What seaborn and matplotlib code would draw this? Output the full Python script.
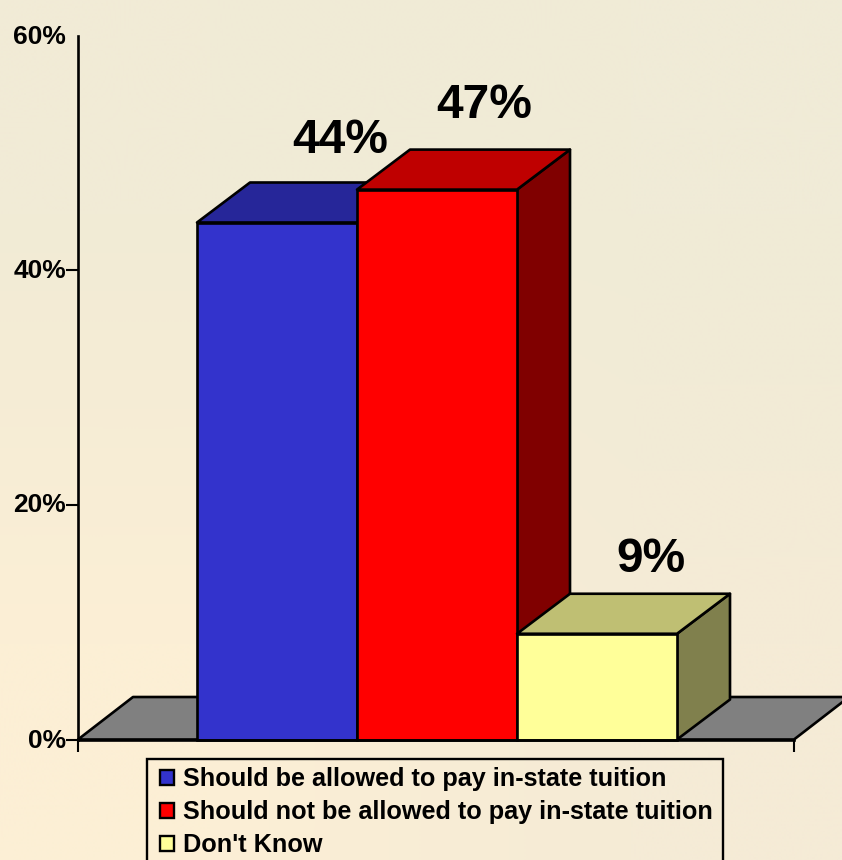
import numpy as np
import pandas as pd
import matplotlib
matplotlib.use("Agg")
import matplotlib.pyplot as plt
from matplotlib.colors import to_rgb
from matplotlib.patches import Polygon, Rectangle
from matplotlib.transforms import ScaledTranslation
import seaborn as sns

categories = ["Should be allowed to pay in-state tuition",
              "Should not be allowed to pay in-state tuition",
              "Don't Know"]
values = [44, 46.8, 9]
value_labels = ["44%", "47%", "9%"]
bar_colors = ["#3333CC", "#FF0000", "#FFFF99"]
y_ticks = [0, 20, 40, 60]
y_tick_labels = ["0%", "20%", "40%", "60%"]

W, H = 842, 860
sns.set_theme(style="white")
plt.rcParams["font.family"] = ["Liberation Sans", "DejaVu Sans"]
plt.rcParams["font.weight"] = "bold"

fig = plt.figure(figsize=(W / 100, H / 100), dpi=100)

# background gradient
bg = fig.add_axes([0, 0, 1, 1], zorder=-1)
grad = np.array([[[241, 235, 214], [240, 235, 215]],
                 [[252, 239, 213], [245, 235, 214]]], dtype=float) / 255
bg.imshow(grad, aspect="auto", interpolation="bilinear", extent=[0, 1, 0, 1])
bg.axis("off")

# main axes: x 78-794 px, y 36-739.5 px
L, R, T, B = 78, 794, 36, 739.5
ax = fig.add_axes([L / W, 1 - B / H, (R - L) / W, (B - T) / H])
ax.patch.set_alpha(0)

LW = 1.9
df = pd.DataFrame({"cat": categories, "val": values})
sns.barplot(data=df, x="cat", y="val", hue="cat", palette=bar_colors,
            hue_order=categories, order=categories, dodge=False, width=1.0,
            saturation=1, edgecolor="black", linewidth=LW, ax=ax, legend=True)

px_per_cat = 160.0
x0 = (L - 277) / px_per_cat
x1 = (R - 277) / px_per_cat
ax.set_xlim(x0, x1)
y_max = (B - T) / 11.75
ax.set_ylim(0, y_max)
dx = 53 / px_per_cat
dy = 40 / 11.75
floor_dx = 55 / px_per_cat
floor_dy = 42.5 / 11.75


def shade(color, f):
    return tuple(c * f for c in to_rgb(color))


edge = dict(edgecolor="black", linewidth=LW, joinstyle="round", clip_on=False)

# floor
ax.add_patch(Polygon([(x0, 0), (x0 + floor_dx, floor_dy), (x1 + floor_dx, floor_dy), (x1, 0)],
                     facecolor="#808080", zorder=0.5, **edge))

bars = sorted([p for p in ax.patches if isinstance(p, matplotlib.patches.Rectangle) and p.get_height() > 0],
              key=lambda p: p.get_x())
for i, (bar, col, lab) in enumerate(zip(bars, bar_colors, value_labels)):
    a = bar.get_x()
    b = a + bar.get_width()
    h = bar.get_height()
    base = 2 + i * 3
    ax.add_patch(Polygon([(b, 0), (b + dx, dy), (b + dx, h + dy), (b, h)],
                         facecolor=shade(col, 0.5), zorder=base, **edge))
    ax.add_patch(Polygon([(a, h), (a + dx, h + dy), (b + dx, h + dy), (b, h)],
                         facecolor=shade(col, 0.75), zorder=base + 1, **edge))
    bar.set_zorder(base + 2)
    bar.set_clip_on(False)

# value labels
label_offsets = [(63, 82), (47, 84), (54, 74)]
for bar, lab, (ox, oy) in zip(bars, value_labels, label_offsets):
    ax.annotate(lab, (bar.get_x() + bar.get_width() / 2, bar.get_height()),
                xytext=(ox * 0.72, oy * 0.72), textcoords="offset points",
                ha="center", va="center", fontsize=34.5, fontweight="bold",
                color="black", zorder=20)

# axes furniture
for s in ["top", "right"]:
    ax.spines[s].set_visible(False)
for s in ["left", "bottom"]:
    ax.spines[s].set_linewidth(LW)
    ax.spines[s].set_color("black")
    ax.spines[s].set_zorder(30)
ax.set_yticks(y_ticks[:-1] + [y_max], y_tick_labels)
ax.tick_params(axis="y", length=8.5, width=1.5, color="black", pad=0, left=True,
               labelsize=19, labelcolor="black")
ax.get_yticklines()[-2].set_visible(False)
shift = ScaledTranslation(0, 1.5 / 72 * 0.72 * 1.0, fig.dpi_scale_trans)
for t in ax.get_yticklabels():
    t.set_transform(t.get_transform() + shift)
ax.set_xticks([x0, x1], ["", ""])
ax.tick_params(axis="x", length=8.5, width=1.5, color="black", bottom=True)
ax.set_xlabel("")
ax.set_ylabel("")

# legend
handles, labels = ax.get_legend_handles_labels()
ax.get_legend().remove()
fig.add_artist(Rectangle((147 / W, 1 - 866 / H), 576 / W, 107 / H, transform=fig.transFigure,
                         facecolor="none", edgecolor="black", linewidth=1.7))
leg = fig.legend(handles, labels, loc="upper left",
                 bbox_to_anchor=(147 / W, 1 - 754 / H), bbox_transform=fig.transFigure,
                 frameon=False,
                 handlelength=0.55, handleheight=0.55, labelcolor="black",
                 handletextpad=0.36, labelspacing=0.36, borderpad=0.52, borderaxespad=0,
                 prop=dict(family="Liberation Sans", weight="bold", size=18.2))
for h in leg.legend_handles:
    h.set_edgecolor("black")
    h.set_linewidth(1.7)

fig.savefig("out.png", dpi=100)
